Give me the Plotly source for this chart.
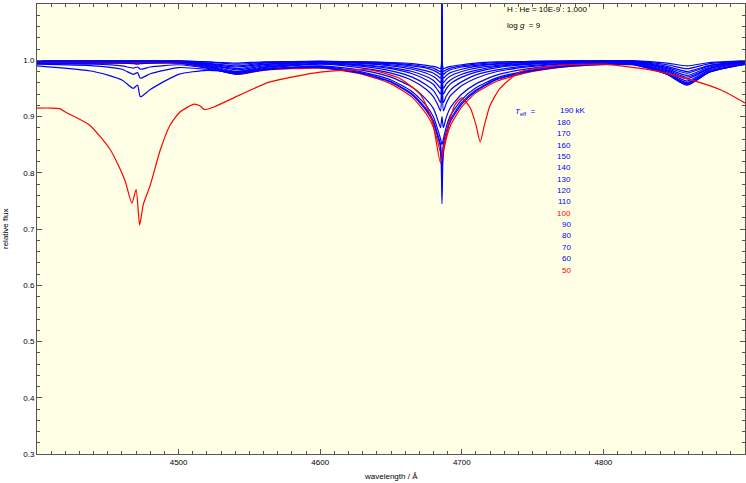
import plotly.graph_objects as go

# Teff labels (kK) and colours
temps = [190, 180, 170, 160, 150, 140, 130, 120, 110, 100, 90, 80, 70, 60, 50]
colors = ["blue"] * 9 + ["red"] + ["blue"] * 4 + ["red"]

# wavelength grid for 60-190 kK models
wl = [4400, 4440, 4460, 4468, 4471, 4473, 4480, 4500, 4520, 4541,
      4560, 4600, 4630, 4650, 4665, 4675, 4680, 4683, 4685, 4686, 4687,
      4689, 4692, 4700, 4710, 4725, 4750, 4780, 4820,
      4845, 4859, 4875, 4900]

f190 = [.999, .999, .999, .999, .999, .999, .999, .999, .997, .995,
        .997, .998, .997, .996, .994, .991, .989, .987, .985, 1.12, .985,
        .987, .989, .992, .995, .997, .998, .999, .999, .995, .990, .996, .999]
f180 = [.999, .999, .999, .999, .999, .999, .999, .999, .997, .993,
        .996, .998, .997, .995, .992, .988, .986, .982, .980, 1.11, .980,
        .983, .986, .990, .993, .996, .998, .999, .999, .992, .985, .994, .999]
f170 = [.998, .998, .998, .998, .998, .998, .998, .998, .995, .990,
        .995, .998, .996, .994, .990, .986, .982, .978, .975, 1.10, .975,
        .979, .983, .988, .991, .994, .997, .998, .999, .989, .980, .991, .998]
f160 = [.998, .998, .998, .998, .998, .998, .998, .998, .994, .988,
        .993, .997, .995, .992, .987, .981, .977, .972, .968, 1.08, .968,
        .973, .978, .984, .989, .993, .996, .998, .998, .987, .977, .990, .998]
f150 = [.997, .997, .997, .997, .997, .997, .997, .997, .993, .985,
        .992, .997, .994, .990, .984, .977, .971, .965, .960, 1.06, .960,
        .966, .972, .980, .986, .991, .995, .997, .998, .985, .973, .988, .997]
f140 = [.997, .997, .997, .997, .997, .997, .997, .997, .992, .983,
        .990, .996, .992, .987, .980, .971, .964, .956, .950, 1.04, .950,
        .958, .965, .975, .982, .989, .994, .997, .998, .983, .970, .986, .997]
f130 = [.996, .996, .996, .996, .996, .996, .996, .996, .991, .980,
        .988, .995, .991, .985, .976, .965, .957, .947, .940, 1.02, .940,
        .949, .958, .970, .979, .987, .993, .996, .997, .981, .967, .985, .996]
f120 = [.996, .996, .996, .996, .996, .996, .996, .996, .990, .978,
        .987, .994, .989, .981, .970, .956, .946, .934, .925, .99, .925,
        .936, .947, .962, .974, .983, .991, .995, .997, .979, .963, .983, .996]
f110 = [.995, .995, .995, .995, .995, .995, .995, .995, .989, .976,
        .985, .993, .986, .977, .964, .948, .935, .921, .910, .96, .910,
        .923, .937, .955, .968, .980, .989, .995, .996, .977, .960, .981, .995]
f100 = [.995, .995, .995, .995, .995, .995, .995, .995, .987, .975,
        .982, .986, .975, .958, .934, .904, .881, .855, .835, .81, .835,
        .860, .884, .917, .942, .963, .980, .990, .993, .976, .958, .980, .995]
f90 = [.995, .995, .995, .994, .993, .994, .995, .995, .987, .975,
       .983, .990, .982, .970, .952, .930, .914, .894, .880, .90, .880,
       .898, .916, .940, .958, .974, .986, .993, .995, .975, .956, .979, .995]
f80 = [.994, .993, .990, .986, .988, .984, .988, .992, .986, .976,
       .983, .989, .979, .965, .944, .919, .899, .877, .860, .85, .860,
       .881, .902, .930, .951, .969, .983, .992, .994, .975, .956, .979, .994]
f70 = [.993, .990, .984, .975, .978, .968, .976, .987, .984, .978,
       .984, .988, .977, .962, .940, .913, .892, .868, .850, .80, .850,
       .872, .895, .925, .947, .967, .982, .991, .993, .975, .958, .979, .993]
f60 = [.990, .980, .965, .950, .956, .935, .948, .975, .982, .980,
       .984, .987, .976, .961, .938, .910, .888, .864, .845, .745, .845,
       .868, .891, .922, .945, .966, .981, .990, .992, .976, .960, .980, .992]

# 50 kK model (own grid)
wl50 = [4400, 4410, 4416, 4420, 4437, 4452, 4462, 4467, 4470, 4472.5, 4475,
        4480, 4487, 4494, 4501, 4511, 4515, 4518.5, 4525, 4543, 4564, 4600,
        4635, 4656, 4671, 4679, 4685, 4688, 4695, 4700, 4706, 4710, 4713,
        4716, 4720, 4727, 4741, 4770, 4800, 4833, 4862, 4883, 4900]
f50 = [.915, .915, .914, .908, .885, .840, .787, .746, .770, .707, .743,
       .778, .840, .885, .908, .922, .919, .912, .917, .938, .961, .979,
       .983, .968, .938, .894, .817, .858, .920, .933, .915, .885, .855,
       .885, .920, .950, .979, .991, .993, .983, .965, .947, .924]

series = [f190, f180, f170, f160, f150, f140, f130, f120, f110, f100,
          f90, f80, f70, f60]

fig = go.Figure()
for t, c, f in zip(temps[:-1], colors[:-1], series):
    fig.add_trace(go.Scatter(x=wl, y=f, mode="lines", name=f"{t} kK",
                             line=dict(color=c, width=1.2, shape="spline", smoothing=0.6)))
fig.add_trace(go.Scatter(x=wl50, y=f50, mode="lines", name="50 kK",
                         line=dict(color="red", width=1.2, shape="spline", smoothing=0.6)))

W, H, L, R, T, B = 746, 483, 37, 1, 4, 29
font = "Liberation Sans, Arial, sans-serif"


def pp(px, py):
    return (px - L) / (W - L - R), 1 - (py - T) / (H - T - B)


texts = [
    (505, 10, "H : He = 10E-9 : 1.000", "left", "black", 0),
    (505, 26, "log <i>g</i>  = 9", "left", "black", 0),
    (513, 112, "<i>T</i><sub>eff</sub>  =", "left", "blue", 0),
    (391, 476, "wavelength / Å", "center", "black", 0),
    (5, 229, "relative flux", "center", "black", -90),
]
for i, (t, c) in enumerate(zip(temps, colors)):
    if i == 0:
        texts.append((558, 111, f"{t} kK", "left", c, 0))
    else:
        texts.append((573, 111 + i * 11.36, str(t), "right", c, 0))

annotations = []
for px, py, txt, xa, col, rot in texts:
    x, y = pp(px, py)
    annotations.append(dict(x=x, y=y, xref="paper", yref="paper", text=txt,
                            showarrow=False, xanchor=xa, yanchor="middle",
                            textangle=rot,
                            font=dict(size=8, color=col, family=font)))

fig.update_layout(
    width=W, height=H, margin=dict(l=L, r=R, t=T, b=B),
    paper_bgcolor="white", plot_bgcolor="#ffffe6",
    showlegend=False, font=dict(family=font, size=8, color="black"),
    annotations=annotations,
    xaxis=dict(range=[4400, 4900], tickvals=[4500, 4600, 4700, 4800],
               ticks="inside", ticklen=5, tickcolor="#555", showgrid=False,
               zeroline=False, showline=True, linecolor="#555", mirror="ticks",
               automargin=False,
               minor=dict(dtick=10, tick0=4400, ticks="inside", ticklen=3, tickcolor="#555")),
    yaxis=dict(range=[0.3, 1.1], dtick=0.1, tickformat=".1f",
               ticks="inside", ticklen=5, tickcolor="#555", showgrid=False,
               zeroline=False, showline=True, linecolor="#555", mirror="ticks",
               automargin=False,
               minor=dict(dtick=0.02, ticks="inside", ticklen=3, tickcolor="#555")),
)
fig.write_html("out.html", config={"displayModeBar": False},
               post_script="document.body.style.margin='0';document.body.style.overflow='hidden';")
